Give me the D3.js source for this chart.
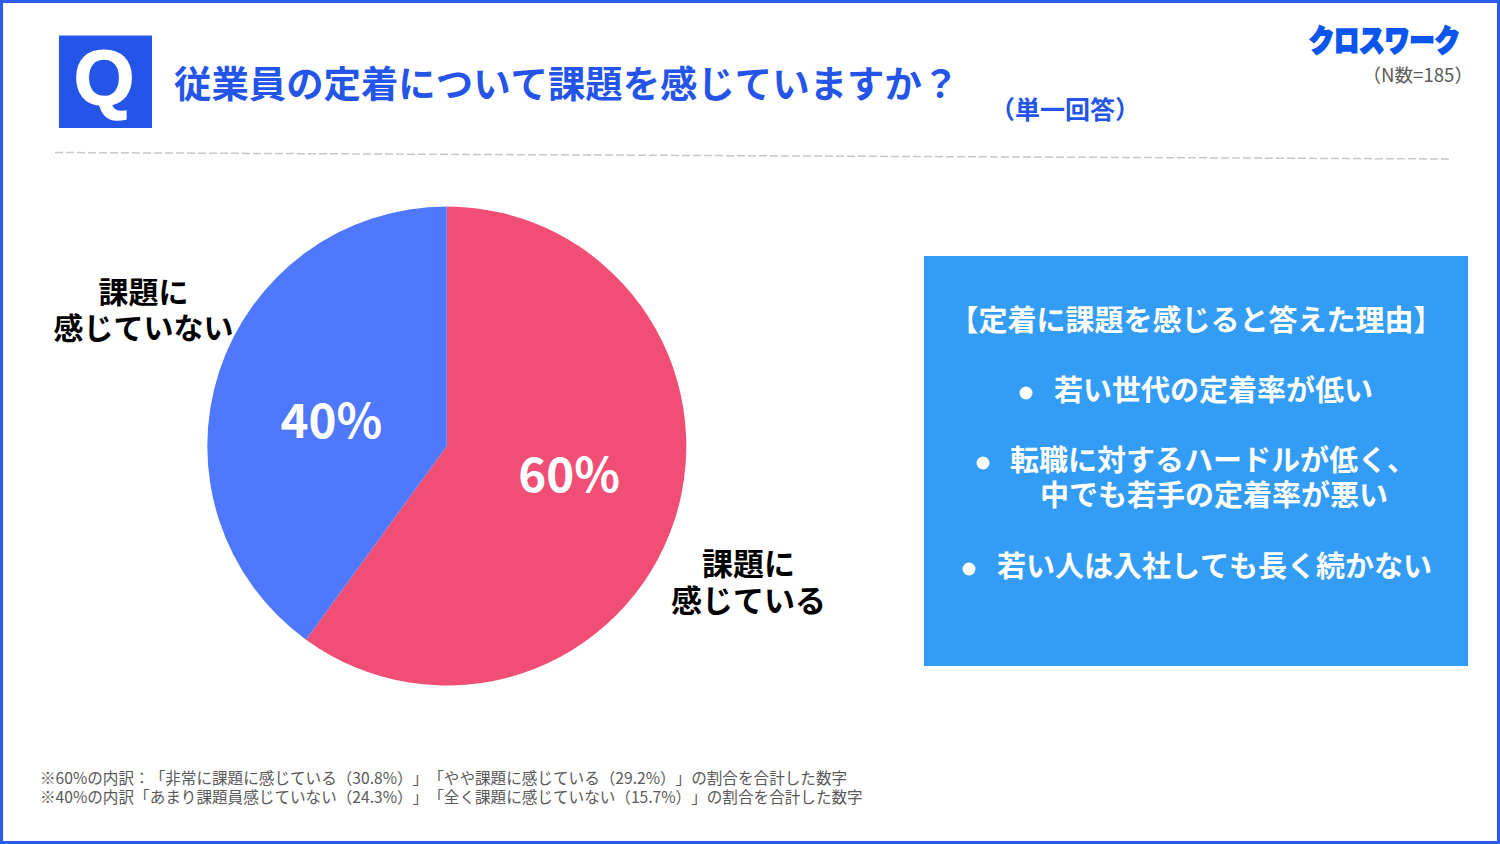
<!DOCTYPE html>
<html>
<head>
<meta charset="utf-8">
<script src="https://cdn.jsdelivr.net/npm/d3@7"></script>
<style>
  html, body { margin: 0; padding: 0; background: #fff; }
  svg { display: block; }
  text {
    font-family: "Noto Sans CJK JP", "Noto Sans", sans-serif;
    text-spacing-trim: space-all;
    font-kerning: none;
  }
</style>
</head>
<body>
<svg id="chart" width="1500" height="844"></svg>
<script>
// data
var categories = ["課題に感じている", "課題に感じていない"];
var values = [60, 40];
var valueLabels = ["60%", "40%"];
var sliceColors = ["#f14e75", "#5078ff"];

var titleText = "従業員の定着について課題を感じていますか？";
var reasons = [
  { bullet: 1026, lines: [{ x: 1054, y: 401, t: "若い世代の定着率が低い" }] },
  { bullet: 983, lines: [{ x: 1010, y: 471, t: "転職に対するハードルが低く、" }, { x: 1040, y: 506, t: "中でも若手の定着率が悪い" }] },
  { bullet: 969, lines: [{ x: 997, y: 577, t: "若い人は入社しても長く続かない" }] }
];
var notes = [
  "※60%の内訳：「非常に課題に感じている（30.8%）」「やや課題に感じている（29.2%）」の割合を合計した数字",
  "※40%の内訳「あまり課題員感じていない（24.3%）」「全く課題に感じていない（15.7%）」の割合を合計した数字"
];

var svg = d3.select("#chart");
var blue = "#2455e8";

// frame
svg.append("rect")
  .attr("x", 1.5).attr("y", 1.5)
  .attr("width", 1497).attr("height", 841)
  .attr("fill", "#fff")
  .attr("stroke", "#2a5cf0")
  .attr("stroke-width", 3);

// Q badge + title
svg.append("rect")
  .attr("x", 59).attr("y", 35.5)
  .attr("width", 93).attr("height", 92.5)
  .attr("fill", blue);
svg.append("text")
  .attr("x", 104).attr("y", 105)
  .attr("text-anchor", "middle")
  .attr("font-size", 78)
  .attr("font-weight", 700)
  .style("font-family", "'Liberation Sans', sans-serif")
  .attr("fill", "#fff")
  .attr("stroke", "#fff")
  .attr("stroke-width", 1.5)
  .text("Q");
svg.append("text")
  .attr("x", 174).attr("y", 98)
  .attr("font-size", 37.4)
  .attr("font-weight", 700)
  .attr("fill", blue)
  .text(titleText);
svg.append("text")
  .attr("x", 990).attr("y", 119)
  .attr("font-size", 25)
  .attr("font-weight", 700)
  .attr("fill", blue)
  .text("（単一回答）");

// logo and sample size
svg.append("text")
  .attr("transform", "translate(1460,50.5) scale(0.84,1)")
  .attr("text-anchor", "end")
  .attr("font-size", 30)
  .attr("font-weight", 900)
  .attr("fill", "#0a55ee")
  .attr("stroke", "#0a55ee")
  .attr("stroke-width", 2)
  .text("クロスワーク");
svg.append("text")
  .attr("x", 1473).attr("y", 82)
  .attr("text-anchor", "end")
  .attr("font-size", 18.6)
  .attr("fill", "#595959")
  .text("（N数=185）");

// dashed rule
svg.append("line")
  .attr("x1", 55).attr("y1", 152.5)
  .attr("x2", 1450).attr("y2", 159)
  .attr("stroke", "#c8c8c8")
  .attr("stroke-width", 1.5)
  .attr("stroke-dasharray", "8 3");

// pie
var pie = d3.pie().sort(null);
var arc = d3.arc().innerRadius(0).outerRadius(239.5);
var pieG = svg.append("g").attr("transform", "translate(446.8,446)");

pieG.selectAll("path")
  .data(pie(values))
  .enter()
  .append("path")
  .attr("d", arc)
  .attr("fill", function (d, i) { return sliceColors[i]; });

// labels sit a bit closer to the horizontal than the centroid
var labelArc = d3.arc().innerRadius(125).outerRadius(125);
pieG.selectAll(".val")
  .data(pie(values))
  .enter()
  .append("text")
  .attr("class", "val")
  .attr("transform", function (d) {
    var c = labelArc.centroid(d);
    return "translate(" + (c[0] + 3.5) + "," + (c[1] * 0.7 + 1.5) + ")";
  })
  .attr("text-anchor", "middle")
  .attr("dy", "0.36em")
  .attr("font-size", 47.5)
  .attr("font-weight", 700)
  .attr("fill", "#fff")
  .text(function (d, i) { return valueLabels[i]; });

// category labels (split on two lines as in the picture)
svg.append("text")
  .attr("x", 748.5).attr("y", 575)
  .attr("text-anchor", "middle")
  .attr("font-size", 31).attr("font-weight", 700).attr("fill", "#000")
  .text(categories[0].slice(0, 3));
svg.append("text")
  .attr("x", 748.5).attr("y", 612)
  .attr("text-anchor", "middle")
  .attr("font-size", 31).attr("font-weight", 700).attr("fill", "#000")
  .text(categories[0].slice(3));
svg.append("text")
  .attr("x", 143.5).attr("y", 303)
  .attr("text-anchor", "middle")
  .attr("font-size", 30).attr("font-weight", 700).attr("fill", "#000")
  .text(categories[1].slice(0, 3));
svg.append("text")
  .attr("x", 143.5).attr("y", 339)
  .attr("text-anchor", "middle")
  .attr("font-size", 30).attr("font-weight", 700).attr("fill", "#000")
  .text(categories[1].slice(3));

// reasons box
svg.append("rect")
  .attr("x", 924).attr("y", 256)
  .attr("width", 544).attr("height", 410)
  .attr("fill", "#339cf5");
svg.append("text")
  .attr("x", 1196).attr("y", 331)
  .attr("text-anchor", "middle")
  .attr("font-size", 29).attr("font-weight", 700).attr("fill", "#fff")
  .text("【定着に課題を感じると答えた理由】");

reasons.forEach(function (r) {
  svg.append("circle")
    .attr("cx", r.bullet).attr("cy", r.lines[0].y - 8)
    .attr("r", 6.5)
    .attr("fill", "#fff");
  r.lines.forEach(function (l) {
    svg.append("text")
      .attr("x", l.x).attr("y", l.y)
      .attr("font-size", 29).attr("font-weight", 700).attr("fill", "#fff")
      .text(l.t);
  });
});

// footnotes
svg.selectAll(".note")
  .data(notes)
  .enter()
  .append("text")
  .attr("class", "note")
  .attr("x", 40)
  .attr("y", function (d, i) { return 784 + i * 19; })
  .attr("font-size", 15.6)
  .attr("fill", "#595959")
  .text(function (d) { return d; });
</script>
</body>
</html>
